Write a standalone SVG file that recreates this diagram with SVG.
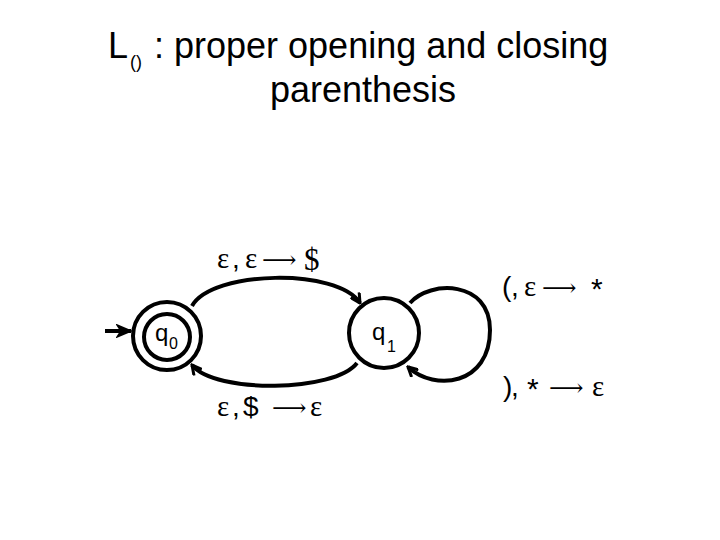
<svg xmlns="http://www.w3.org/2000/svg" width="720" height="540" viewBox="0 0 720 540">
<style>
.title{font-family:"Liberation Sans",Arial,sans-serif;font-size:36px;fill:#000}
.sub{font-family:"Liberation Sans",Arial,sans-serif;font-size:18px;fill:#000}
.st{fill:none;stroke:#000;stroke-width:4}
.q{font-family:"Liberation Sans",Arial,sans-serif;font-size:24px;fill:#000}
.qs{font-family:"Liberation Sans",Arial,sans-serif;font-size:16px;fill:#000}
.lab{font-family:"Liberation Serif","Times New Roman",serif;font-size:29px;fill:#000}
.san{font-family:"Liberation Sans",Arial,sans-serif;font-size:28px}
.arr{font-family:"DejaVu Serif","DejaVu Sans",serif;font-size:24px}
.edge{fill:none;stroke:#000;stroke-width:4}
</style>
<defs>
<marker id="ah" viewBox="0 0 12 12" refX="10.5" refY="6" markerWidth="12" markerHeight="12" markerUnits="userSpaceOnUse" orient="auto">
<path d="M1,1 L10.5,6 L1,11" fill="none" stroke="#000" stroke-width="3"/>
</marker>
<marker id="ah2" viewBox="0 0 16 14" refX="15" refY="7" markerWidth="16" markerHeight="14" markerUnits="userSpaceOnUse" orient="auto">
<path d="M1,1 L15,7 L1,13 L5,7 z" fill="#000" stroke="#000" stroke-width="1.5" stroke-linejoin="miter"/>
</marker>
</defs>

<g id="title">
<text class="title" x="108" y="58">L</text>
<text class="sub" x="130" y="68">()</text>
<text class="title" x="154" y="58">: proper opening and closing</text>
<text class="title" x="363" y="102" text-anchor="middle">parenthesis</text>
</g>

<g id="connectors">
<path id="start" class="edge" d="M105,331 L131,331" marker-end="url(#ah2)"/>
<path id="e01" class="edge" d="M192,306 C212,270 338,268 360,303" marker-end="url(#ah)"/>
<path id="e10" class="edge" d="M357,363 C335,392 215,394 192,365" marker-end="url(#ah)"/>
<path id="e11" class="edge" d="M410,303 C430,280 490,280 490,330 C490,385 435,392 408,367" marker-end="url(#ah)"/>
</g>

<g id="q0">
<circle class="st" cx="167" cy="336" r="34"/>
<circle class="st" cx="167" cy="337" r="23"/>
<text class="q" x="155" y="341">q</text>
<text class="qs" x="169" y="349">0</text>
</g>

<g id="q1">
<circle class="st" cx="384" cy="333" r="35"/>
<text class="q" x="372" y="340">q</text>
<text class="qs" x="387" y="352">1</text>
</g>

<g id="label-e01">
<text class="lab" x="217" y="268">ε<tspan class="san" x="232">,</tspan><tspan x="245">ε</tspan><tspan class="arr" x="262">⟶</tspan><tspan x="304" dy="2" style="font-size:31px">$</tspan></text>
</g>

<g id="label-e10">
<text class="lab" x="217" y="416">ε<tspan class="san" x="232">,</tspan><tspan class="san" x="243">$</tspan><tspan class="arr" x="272">⟶</tspan><tspan x="310">ε</tspan></text>
</g>

<g id="label-e11a">
<text class="lab" x="502" y="296"><tspan class="san">(</tspan><tspan class="san" x="511">,</tspan><tspan x="524">ε</tspan><tspan class="arr" x="542">⟶</tspan><tspan class="san" x="591" dy="3" style="font-size:30px">*</tspan></text>
</g>

<g id="label-e11b">
<text class="lab" x="503" y="396"><tspan class="san">)</tspan><tspan class="san" x="511">,</tspan><tspan class="san" x="527" dy="3" style="font-size:30px">*</tspan><tspan class="arr" x="549" dy="-3">⟶</tspan><tspan x="592">ε</tspan></text>
</g>
</svg>
